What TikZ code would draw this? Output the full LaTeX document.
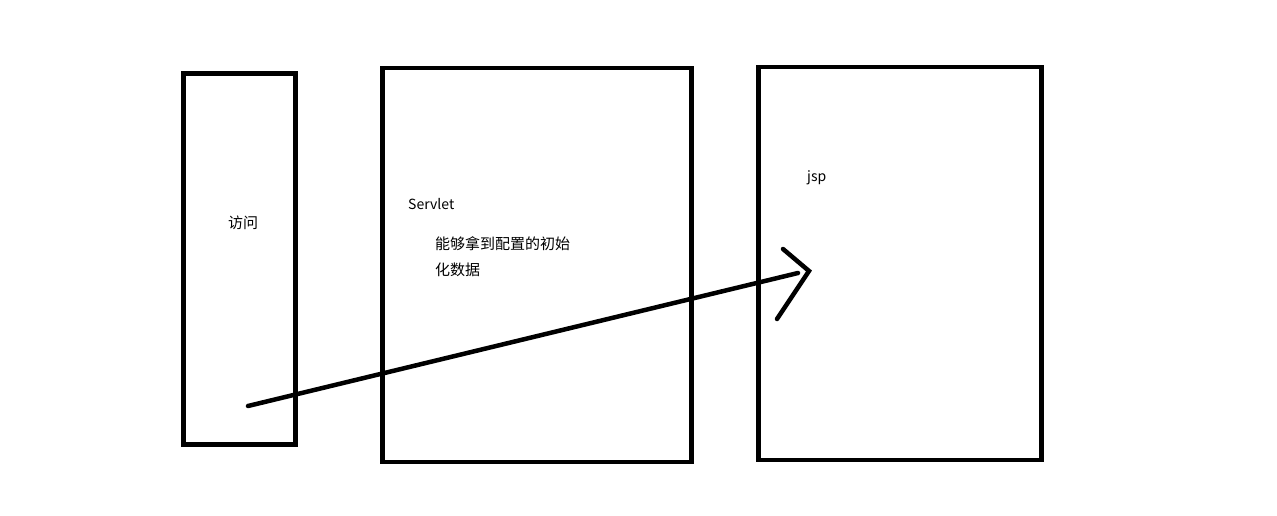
\documentclass[tikz,border=0pt]{standalone}
\usepackage{fontspec}
\setmainfont{Noto Sans CJK SC}
\usetikzlibrary{positioning}

\tikzset{
  block/.style={draw, line width=4.5pt, inner sep=0pt},
  stroke/.style={line width=4.5pt, line cap=round},
  label/.style={anchor=west, inner sep=0pt, font=\fontsize{14}{17}\selectfont},
  cjk/.style={label, font=\fontsize{15}{18}\selectfont}
}

\begin{document}
\begin{tikzpicture}[x=1pt, y=-1pt]
\useasboundingbox (0,0) rectangle (1277,516);

% the three boxes
\node[block, minimum width=112pt, minimum height=371pt] (visit) at (239.5,259) {};
\node[block, minimum width=309pt, minimum height=394pt] (servlet) at (537,265) {};
\node[block, minimum width=283pt, minimum height=393pt] (jsp) at (900,263.5) {};

% texts
\node[cjk] (visittext) at (228,223) {访问};
\node[label] (servlettext) at (408,204) {Servlet};
\node[cjk] (line1) at (435,244) {能够拿到配置的初始};
\node[cjk, below=26pt of line1.west, anchor=west] (line2) {化数据};
\node[label] (jsptext) at (807,178) {jsp};

% hand drawn arrow
\coordinate (start) at (248,406);
\coordinate (tip) at (809,271);
\coordinate (upper) at (783,249);
\coordinate (lower) at (777,319);
\draw[stroke] (start) -- (798,273);
\draw[stroke] (upper) -- (tip) -- (lower);
\end{tikzpicture}
\end{document}
